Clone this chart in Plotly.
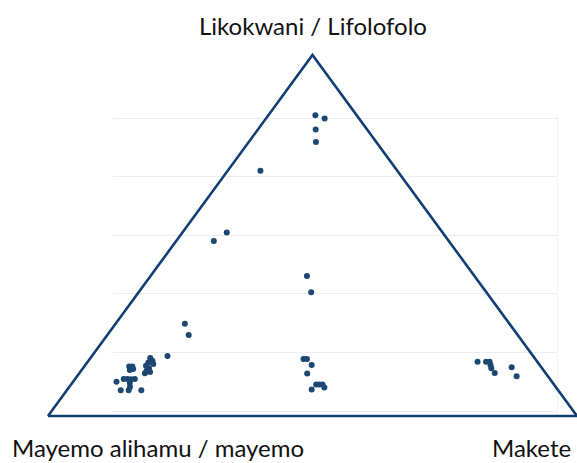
import plotly.graph_objects as go

# Vertex labels
label_top = "Likokwani / Lifolofolo"
label_left = "Mayemo alihamu / mayemo"
label_right = "Makete"

# Compositions (%) : a = Likokwani / Lifolofolo, b = Mayemo alihamu / mayemo, c = Makete
share_a = [83.4, 82.5, 79.4, 75.9, 68.0, 50.8, 48.5, 38.8, 34.3, 25.6, 22.4, 16.6,
           16.1, 15.3, 14.8, 14.4, 13.9, 13.2, 12.5, 11.8, 12.2, 13.7, 13.7, 13.0, 12.7,
           10.2, 10.2, 10.2, 10.2, 9.1, 8.0, 7.1, 9.5, 7.1, 7.1,
           15.8, 15.8, 14.1, 11.8, 7.3, 8.7, 8.7, 8.7, 7.9,
           15.0, 15.0, 15.0, 14.1, 13.2, 11.9, 13.5, 11.0]
share_b = [7.8, 6.5, 9.7, 11.4, 25.9, 40.8, 44.4, 31.7, 33.1, 61.4, 62.2, 69.1,
           72.7, 72.6, 73.7, 72.9, 74.6, 74.3, 75.1, 75.7, 74.6, 77.8, 77.2, 77.4, 78.1,
           80.5, 79.8, 79.2, 78.4, 79.9, 80.5, 81.2, 82.3, 82.7, 78.8,
           43.8, 43.2, 43.1, 45.1, 46.5, 45.0, 44.4, 43.8, 43.8,
           11.3, 9.7, 9.0, 9.3, 9.6, 9.6, 5.6, 5.9]
share_c = [8.9, 11.1, 10.9, 12.7, 6.2, 8.4, 7.1, 29.6, 32.6, 13.1, 15.4, 14.3,
           11.3, 12.1, 11.6, 12.7, 11.6, 12.5, 12.4, 12.4, 13.2, 8.5, 9.1, 9.6, 9.1,
           9.2, 9.9, 10.6, 11.3, 10.9, 11.5, 11.7, 8.2, 10.2, 14.1,
           40.4, 41.1, 42.8, 43.1, 46.2, 46.4, 47.0, 47.6, 48.3,
           73.7, 75.3, 75.9, 76.6, 77.2, 78.5, 80.9, 83.0]

# Triangle corners as compositions (a, b, c)
corner_a = [0, 100, 0, 0]
corner_b = [100, 0, 0, 100]
corner_c = [0, 0, 100, 0]


def project(a, b, c):
    xs, ys = [], []
    for ai, bi, ci in zip(a, b, c):
        s = ai + bi + ci
        xs.append((ci + ai / 2) / s)
        ys.append(ai / s)
    return xs, ys


tx, ty = project(corner_a, corner_b, corner_c)
px, py = project(share_a, share_b, share_c)

fig = go.Figure()
# empty trace that registers the background grid subplot
fig.add_trace(go.Scatter(x=[], y=[], xaxis="x", yaxis="y", mode="markers",
                         hoverinfo="skip", showlegend=False))
fig.add_trace(go.Scatter(x=tx, y=ty, mode="lines", xaxis="x2", yaxis="y2",
                         line=dict(color="#133e74", width=2.6),
                         hoverinfo="skip", showlegend=False))
fig.add_trace(go.Scatter(x=px, y=py, mode="markers", xaxis="x2", yaxis="y2",
                         marker=dict(color="#1b4772", size=6),
                         cliponaxis=False, showlegend=False))

font_main = "Lato, 'Noto Sans', sans-serif"
W, H = 577, 463
pad = 2.0  # px of padding so that the outer grid lines are kept
fig.update_layout(
    width=W, height=H,
    margin=dict(l=0, r=0, t=0, b=0),
    paper_bgcolor="white", plot_bgcolor="rgba(0,0,0,0)",
    # background grid subplot
    xaxis=dict(domain=[113 / W, 557 / W], range=[0, 1], anchor="y",
               showgrid=False, zeroline=False, showticklabels=False, ticks="",
               showline=False, fixedrange=True),
    yaxis=dict(domain=[(H - 411 - pad) / H, (H - 118 + pad) / H],
               range=[-pad / 58.6, 5 + pad / 58.6], tickvals=[0, 1, 2, 3, 4, 5], anchor="x",
               showgrid=True, gridcolor="#e8eef3", gridwidth=1, zeroline=False,
               showticklabels=False, ticks="", side="right",
               showline=True, linecolor="#f0f3f5", linewidth=1, fixedrange=True),
    # ternary data subplot
    xaxis2=dict(domain=[32.1 / W, 1.0], range=[-0.03, 1.0], anchor="y2",
                visible=False, fixedrange=True),
    yaxis2=dict(domain=[(H - 426.8) / H, (H - 44.2) / H], range=[-0.03, 1.03], anchor="x2",
                visible=False, fixedrange=True),
    annotations=[
        dict(text=label_top, xref="paper", yref="paper", x=313 / W, y=1 - 25.3 / H,
             xanchor="center", yanchor="middle", showarrow=False,
             font=dict(family=font_main, size=24, color="#111111")),
        dict(text=label_left, xref="paper", yref="paper", x=158 / W, y=1 - 447 / H,
             xanchor="center", yanchor="middle", showarrow=False,
             font=dict(family=font_main, size=24, color="#111111")),
        dict(text=label_right, xref="paper", yref="paper", x=531 / W, y=1 - 447 / H,
             xanchor="center", yanchor="middle", showarrow=False,
             font=dict(family=font_main, size=24, color="#111111")),
    ],
)

fig.write_html("out.html", config={"displayModeBar": False},
               post_script="document.body.style.margin='0';document.body.style.overflow='hidden';")
